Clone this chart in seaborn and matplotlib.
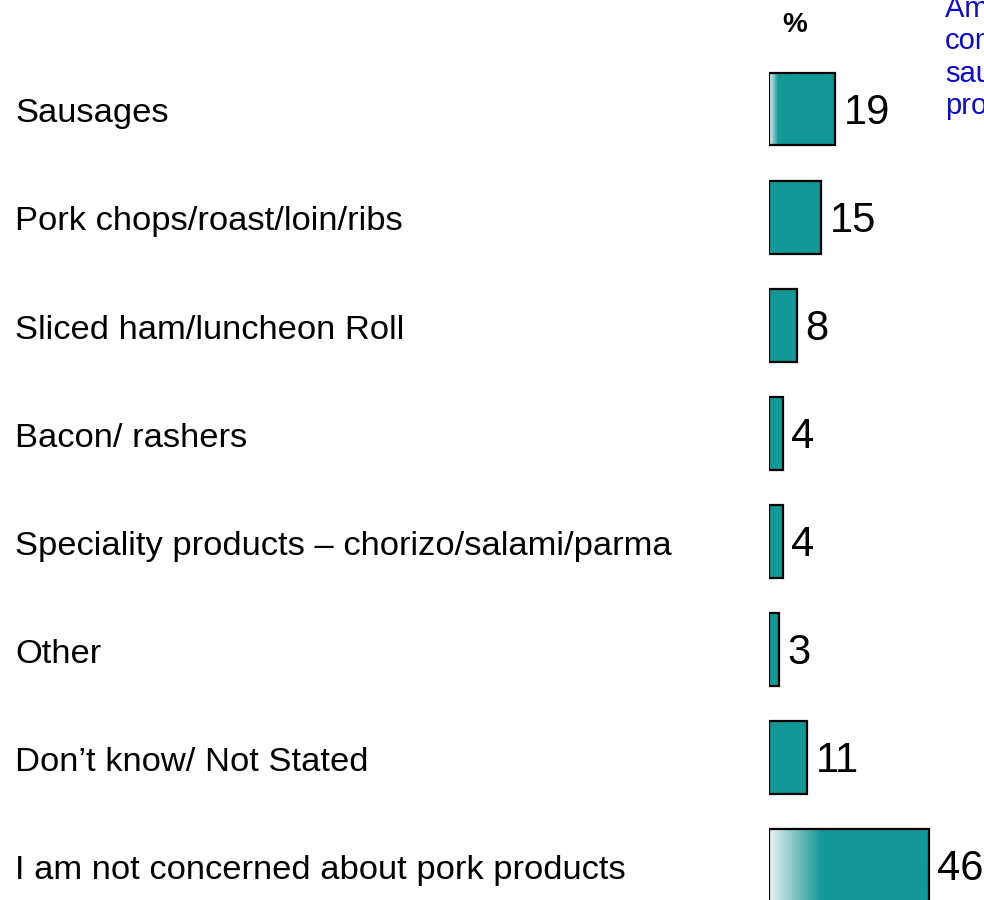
import numpy as np
import pandas as pd
import matplotlib
matplotlib.use("Agg")
import matplotlib.pyplot as plt
from matplotlib.colors import LinearSegmentedColormap
from matplotlib.transforms import blended_transform_factory
import seaborn as sns

categories = [
    "Sausages",
    "Pork chops/roast/loin/ribs",
    "Sliced ham/luncheon Roll",
    "Bacon/ rashers",
    "Speciality products \u2013 chorizo/salami/parma",
    "Other",
    "Don\u2019t know/ Not Stated",
    "I am not concerned about pork products",
]
values = [19, 15, 8, 4, 4, 3, 11, 46]
note_lines = ["Among those", "concerned,", "sausages", "products"]

sns.set_style("white")
plt.rcParams["font.family"] = ["Liberation Sans", "DejaVu Sans"]

TEAL = "#129896"
df = pd.DataFrame({"item": categories, "pct": values})

fig = plt.figure(figsize=(9.84, 9.0), dpi=100)
ax_left = 769 / 984
ax = fig.add_axes([ax_left, 0.0, 1 - ax_left, 1.0])

sns.barplot(data=df, y="item", x="pct", orient="h", color=TEAL,
            saturation=1, width=0.675, edgecolor="black", linewidth=1.6,
            ax=ax)

px_per_unit = 3.48
xmax = 215 / px_per_unit
spacing = 108.1
top = -109 / spacing
bottom = (900 - 109) / spacing
ax.axis("off")

# Left-side white-to-teal fade on the first and last bars
fade = {0: 2.6, 7: 15.0}
for i, patch in enumerate(ax.patches[:len(values)]):
    if i in fade:
        x0, y0 = patch.get_x(), patch.get_y()
        w, h = patch.get_width(), patch.get_height()
        frac = fade[i] / w
        cmap = LinearSegmentedColormap.from_list(
            "fade", [(0, "#eaf1f1"), (frac, TEAL), (1, TEAL)])
        grad = np.linspace(0, 1, 256).reshape(1, -1)
        im = ax.imshow(grad, cmap=cmap, aspect="auto",
                       extent=[x0, x0 + w, y0 + h, y0],
                       zorder=patch.get_zorder() - 0.1,
                       interpolation="bilinear")
        im.set_clip_path(patch)
        patch.set_facecolor("none")
        patch.set_zorder(patch.get_zorder() + 0.2)
ax.set_ylim(bottom, top)
ax.set_xlim(0, xmax)

# Value labels at bar ends
for i, v in enumerate(values):
    ax.annotate(f"{v}", xy=(v, i + 0.035), xytext=(6, 0),
                textcoords="offset points", va="center", ha="left",
                fontsize=30, color="black")

# Category labels on the left
trans = blended_transform_factory(fig.transFigure, ax.transData)
for i, name in enumerate(categories):
    ax.text(15 / 984, i + 0.045, name, transform=trans, ha="left",
            va="center", fontsize=24.8, color="black", clip_on=False)

fig.text(795 / 984, 1 - 25 / 900, "%", ha="center", va="center",
         fontsize=20, fontweight="bold", color="black")

for k, line in enumerate(note_lines):
    fig.text(945 / 984, 1 - (17 + 32.3 * k) / 900, line, ha="left",
             va="baseline", fontsize=21, color="#0a0ad2")

fig.savefig("out.png", dpi=100)
